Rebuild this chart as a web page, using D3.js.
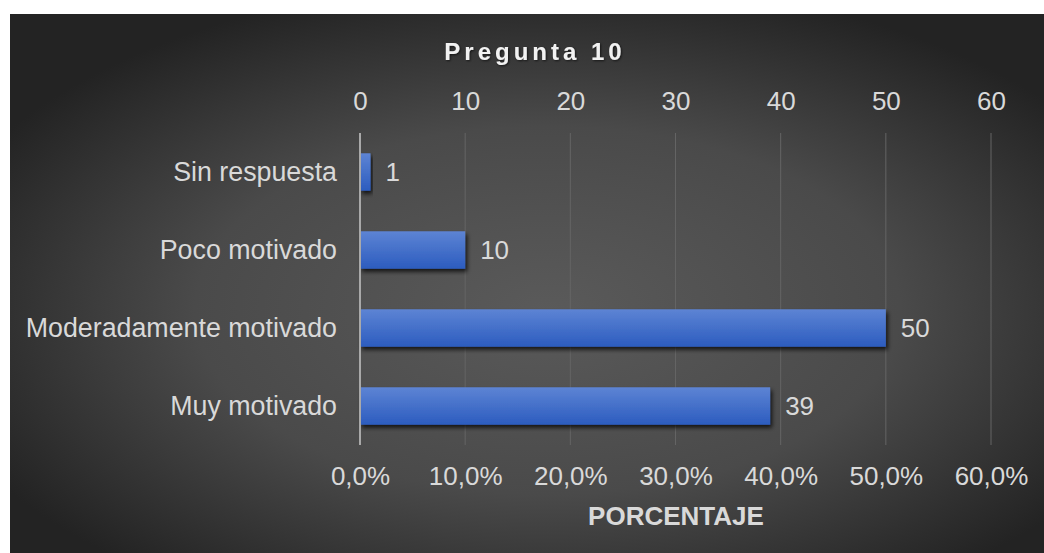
<html>
<head>
<style>
  body { margin: 0; background: #ffffff; font-family: "Liberation Sans", Arial, sans-serif; }
  svg { display: block; }
  .domain { display: none; }
</style>
<script src="https://cdn.jsdelivr.net/npm/d3@7"></script>
</head>
<body>
<svg id="chart"></svg>
<script>
  // data
  let categories = ["Sin respuesta", "Poco motivado", "Moderadamente motivado", "Muy motivado"];
  let values = [1, 10, 50, 39];
  let tickValues = [0, 10, 20, 30, 40, 50, 60];
  let title = "Pregunta 10";
  let axisTitle = "PORCENTAJE";

  let width = 1044, height = 553;
  let margin = { top: 133, left: 360, right: 53, bottom: 108 };
  let bodyWidth = width - margin.left - margin.right;
  let bodyHeight = height - margin.top - margin.bottom;
  let fontSize = 26;
  let textColor = "#d9d9d9";

  let svg = d3.select("#chart").attr("width", width).attr("height", height);
  let defs = svg.append("defs");

  let bg = defs.append("radialGradient").attr("id", "bg")
    .attr("cx", "52%").attr("cy", "55%").attr("r", "62%");
  bg.append("stop").attr("offset", "0%").attr("stop-color", "#5a5a5a");
  bg.append("stop").attr("offset", "55%").attr("stop-color", "#4a4a4a");
  bg.append("stop").attr("offset", "100%").attr("stop-color", "#232323");

  let barGrad = defs.append("linearGradient").attr("id", "barGrad")
    .attr("x1", 0).attr("y1", 0).attr("x2", 0).attr("y2", 1);
  barGrad.append("stop").attr("offset", "0%").attr("stop-color", "#5d84d4");
  barGrad.append("stop").attr("offset", "100%").attr("stop-color", "#2c5cbf");

  let shadow = defs.append("filter").attr("id", "shadow")
    .attr("x", "-10%").attr("y", "-20%").attr("width", "130%").attr("height", "160%");
  shadow.append("feDropShadow").attr("dx", 2).attr("dy", 3).attr("stdDeviation", 2)
    .attr("flood-color", "#000").attr("flood-opacity", 0.75);

  let textShadow = defs.append("filter").attr("id", "textShadow");
  textShadow.append("feDropShadow").attr("dx", 1).attr("dy", 1).attr("stdDeviation", 1)
    .attr("flood-color", "#000").attr("flood-opacity", 0.6);

  svg.append("rect").attr("x", 10).attr("y", 14)
    .attr("width", width - 10).attr("height", height - 14).attr("fill", "url(#bg)");

  let xScale = d3.scaleLinear().domain([0, 60]).range([0, bodyWidth]);
  let yScale = d3.scaleBand().domain(categories).range([0, bodyHeight]).paddingInner(0.52).paddingOuter(0.26);

  let body = svg.append("g").attr("transform", `translate(${margin.left},${margin.top})`);

  // gridlines
  body.selectAll(".grid").data(tickValues.slice(1)).enter().append("line")
    .attr("x1", d => xScale(d)).attr("x2", d => xScale(d))
    .attr("y1", 0).attr("y2", bodyHeight)
    .attr("stroke", "#646464").attr("stroke-width", 1);

  // bars
  body.selectAll(".bar").data(values).enter().append("rect")
    .attr("x", 0)
    .attr("y", (d, i) => yScale(categories[i]))
    .attr("width", d => xScale(d))
    .attr("height", yScale.bandwidth())
    .attr("fill", "url(#barGrad)")
    .attr("filter", "url(#shadow)");

  // zero axis line
  body.append("line").attr("x1", xScale(0)).attr("x2", xScale(0))
    .attr("y1", 0).attr("y2", bodyHeight)
    .attr("stroke", "#a9a9a9").attr("stroke-width", 2);

  // value labels
  body.selectAll(".val").data(values).enter().append("text")
    .attr("x", d => xScale(d) + 15)
    .attr("y", (d, i) => yScale(categories[i]) + yScale.bandwidth() / 2)
    .attr("dy", "0.34em")
    .attr("fill", textColor).attr("font-size", fontSize)
    .text(d => d);

  function styleAxis(g, size) {
    g.attr("font-size", size || fontSize).attr("font-family", "Liberation Sans, Arial, sans-serif");
    g.selectAll("text").attr("fill", textColor);
  }

  // category labels
  let axisY = d3.axisLeft(yScale).tickSize(0).tickPadding(23);
  body.append("g").call(axisY).call(styleAxis, 26.8);

  // top axis (counts)
  let axisTop = d3.axisTop(xScale).tickValues(tickValues).tickSize(0).tickPadding(23);
  body.append("g").call(axisTop).call(styleAxis);

  // bottom axis (percentages)
  let axisBottom = d3.axisBottom(xScale).tickValues(tickValues).tickSize(0).tickPadding(21.5)
    .tickFormat(d => d3.format(".1f")(d).replace(".", ",") + "%");
  body.append("g").attr("transform", `translate(0,${bodyHeight})`).call(axisBottom).call(styleAxis);

  // titles
  svg.append("text").attr("x", 535).attr("y", 60).attr("text-anchor", "middle")
    .attr("fill", "#f2f2f2").attr("font-size", 24).attr("font-weight", "bold")
    .attr("letter-spacing", 4).attr("filter", "url(#textShadow)")
    .text(title);

  svg.append("text").attr("x", 676).attr("y", 525).attr("text-anchor", "middle")
    .attr("fill", textColor).attr("font-size", fontSize).attr("font-weight", "bold")
    .text(axisTitle);
</script>
</body>
</html>
